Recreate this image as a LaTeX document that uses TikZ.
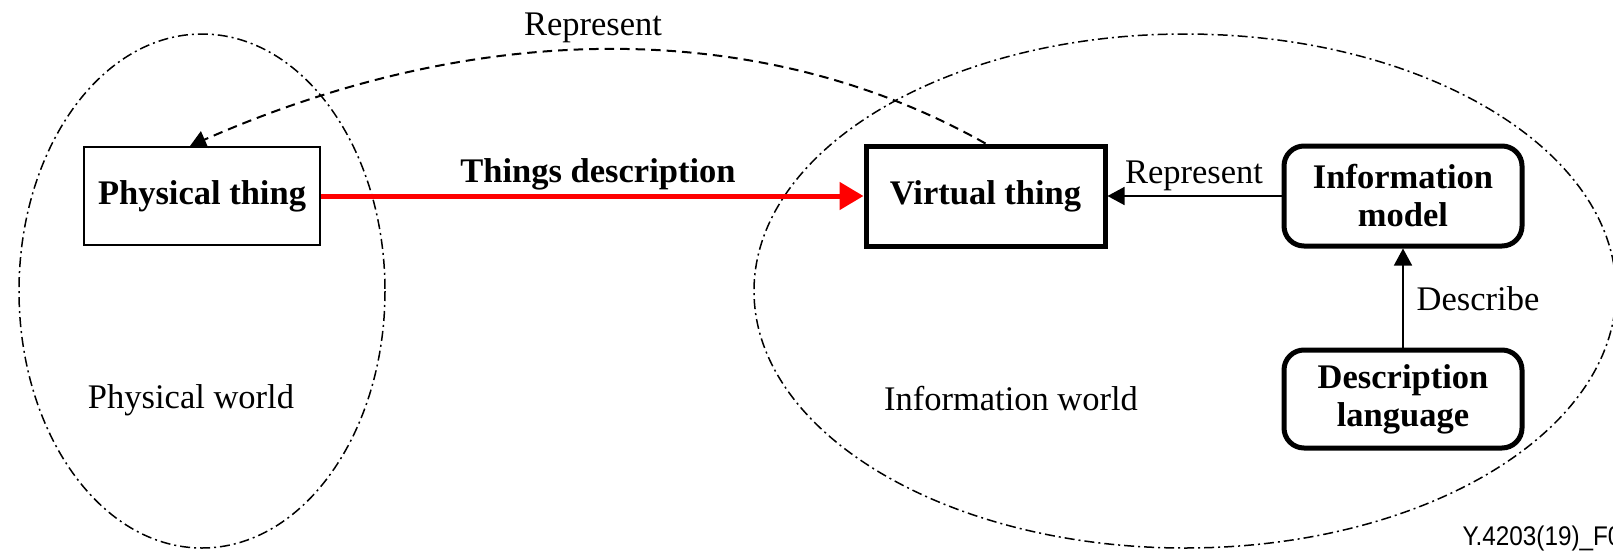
\documentclass[tikz,border=0pt]{standalone}
\usepackage{fontspec}
\setmainfont{Liberation Serif}
\newfontfamily\tagfont[FakeStretch=0.9]{Liberation Sans}
\usetikzlibrary{arrows.meta}

\definecolor{tdred}{RGB}{255,0,0}

\tikzset{
  every node/.style={font=\fontsize{13.8pt}{15.2pt}\selectfont},
  world/.style={line width=0.6pt, dash pattern=on 4pt off 1.6pt on 0.8pt off 1.6pt},
  plainbox/.style={draw, line width=0.8pt, minimum width=94.4pt, minimum height=39.2pt,
                   inner sep=0pt, font=\fontsize{13.8pt}{15.2pt}\selectfont\bfseries},
  thickbox/.style={plainbox, line width=2pt, minimum width=95.6pt, minimum height=40pt},
  roundbox/.style={thickbox, rounded corners=8pt, align=center, minimum width=95.2pt},
  thin arrow/.style={line width=0.6pt, -{Triangle[length=6.8pt,width=7.2pt]}},
  red arrow/.style={draw=tdred, line width=2pt, -{Triangle[length=9.6pt,width=10.8pt]}},
  dash arrow/.style={line width=0.8pt, dash pattern=on 3.8pt off 2.4pt,
                     -{Triangle[length=6.4pt,width=7.2pt]}},
}

\begin{document}
\begin{tikzpicture}[x=0.4pt, y=-0.4pt]
  \useasboundingbox (0,0) rectangle (1613,554);
  \clip (0,0) rectangle (1613,554);

  % the two worlds
  \draw[world] (202,291) ellipse [x radius=183, y radius=257];
  \draw[world] (1185,291) ellipse [x radius=431, y radius=257];

  % things
  \node[plainbox] (p) at (202,196) {Physical thing};
  \node[thickbox] (v) at (985.5,196) {Virtual thing};
  \node[roundbox] (im) at (1403,196) {Information\\model};
  \node[roundbox, minimum height=39.2pt] (dl) at (1403,399) {Description\\language};

  % world labels
  \node[anchor=base] (pw) at (191,408) {Physical world};
  \node[anchor=base] (iw) at (1011,410) {Information world};

  % connectors
  \draw[red arrow] (p.east) -- (v.west);
  \node[anchor=base, font=\fontsize{13.8pt}{15.2pt}\selectfont\bfseries] (td) at (598,182) {Things description};

  \draw[thin arrow] (im.west) -- (v.east);
  \node[anchor=base] (rep1) at (1194,183) {Represent};

  \draw[thin arrow] (dl.north) -- (im.south);
  \node[anchor=base] (desc) at (1478,310) {Describe};

  \draw[dash arrow] (v.north) .. controls (770,22) and (490,14) .. ([xshift=-4.8pt]p.north);
  \node[anchor=base] (rep2) at (593,35) {Represent};

  % figure tag
  \node[anchor=base west, inner sep=0pt, font=\tagfont\fontsize{10.8pt}{12pt}\selectfont] (tag) at (1462,545) {Y.4203(19)\_F01};
\end{tikzpicture}
\end{document}
